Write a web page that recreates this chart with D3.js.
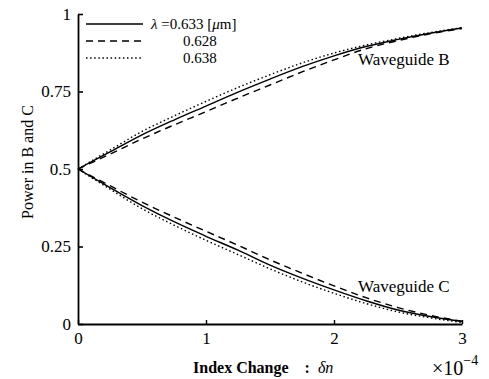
<!DOCTYPE html>
<html>
<head>
<meta charset="utf-8">
<script src="https://cdn.jsdelivr.net/npm/d3@7"></script>
<style>
  body { margin: 0; background: #fff; }
  svg text { font-family: "Liberation Serif", "Times New Roman", serif; fill: #000; }
</style>
</head>
<body>
<svg id="chart" width="489" height="379"></svg>
<script>
// index change (x 1e-4) and power fractions
const deltaN = [0, 0.25, 0.5, 0.75, 1, 1.25, 1.5, 1.75, 2, 2.25, 2.5, 2.75, 3];

const guideB633 = [0.5, 0.555, 0.61, 0.658, 0.703, 0.748, 0.79, 0.83, 0.865, 0.895, 0.918, 0.938, 0.955];
const guideB628 = [0.5, 0.548, 0.597, 0.642, 0.685, 0.729, 0.771, 0.813, 0.852, 0.888, 0.914, 0.936, 0.953];
const guideB638 = [0.5, 0.561, 0.621, 0.671, 0.718, 0.763, 0.804, 0.842, 0.874, 0.9, 0.921, 0.94, 0.956];

const guideC633 = [0.5, 0.44, 0.382, 0.33, 0.283, 0.238, 0.19, 0.148, 0.11, 0.075, 0.045, 0.024, 0.008];
const guideC628 = [0.5, 0.446, 0.393, 0.345, 0.299, 0.254, 0.207, 0.164, 0.123, 0.085, 0.053, 0.028, 0.009];
const guideC638 = [0.5, 0.435, 0.372, 0.319, 0.27, 0.224, 0.178, 0.136, 0.099, 0.066, 0.039, 0.02, 0.005];

const xTicks = [0, 1, 2, 3];
const yTicks = [0, 0.25, 0.5, 0.75, 1];
const yTickLabels = ["0", "0.25", "0.5", "0.75", "1"];
const legendLabels = ["0.633", "0.628", "0.638"];

const styles = {
  solid: null,
  dashed: "7,5",
  dotted: "1.5,2.6"
};

const series = [
  { values: guideB633, dash: styles.solid },
  { values: guideB628, dash: styles.dashed },
  { values: guideB638, dash: styles.dotted },
  { values: guideC633, dash: styles.solid },
  { values: guideC628, dash: styles.dashed },
  { values: guideC638, dash: styles.dotted }
];

const margin = { top: 14, left: 78, right: 27, bottom: 55 };
const width = 489, height = 379;

const svg = d3.select("#chart");

const x = d3.scaleLinear().domain([0, 3]).range([margin.left, width - margin.right]);
const y = d3.scaleLinear().domain([0, 1]).range([height - margin.bottom, margin.top]);

// axes, ticks pointing inward
const yAxis = svg.append("g")
  .attr("transform", `translate(${margin.left},0)`)
  .call(d3.axisLeft(y)
    .tickValues(yTicks)
    .tickFormat((d, i) => yTickLabels[i])
    .tickSizeInner(-5)
    .tickSizeOuter(0)
    .tickPadding(7));
yAxis.selectAll(".tick text").style("font-size", "17px");
yAxis.select(".domain").attr("stroke-width", 1.8);
yAxis.selectAll(".tick line").attr("stroke-width", 1.6);

const xAxis = svg.append("g")
  .attr("transform", `translate(0,${y(0)})`)
  .call(d3.axisBottom(x)
    .tickValues(xTicks)
    .tickFormat(d3.format("d"))
    .tickSizeInner(-4)
    .tickSizeOuter(0)
    .tickPadding(8));
xAxis.selectAll(".tick text").style("font-size", "17px");
xAxis.select(".domain").attr("stroke-width", 1.8);
xAxis.selectAll(".tick line").attr("stroke-width", 1.4);

// curves
const line = d3.line()
  .x((d, i) => x(deltaN[i]))
  .y(d => y(d))
  .curve(d3.curveMonotoneX);

svg.append("g")
  .selectAll("path")
  .data(series)
  .join("path")
  .attr("d", d => line(d.values))
  .attr("fill", "none")
  .attr("stroke", "#000")
  .attr("stroke-width", 1.4)
  .attr("stroke-dasharray", d => d.dash);

// legend
const legend = svg.append("g");
const legendY = [24, 41, 58];
legend.selectAll("line")
  .data([styles.solid, styles.dashed, styles.dotted])
  .join("line")
  .attr("x1", 86).attr("x2", 143)
  .attr("y1", (d, i) => legendY[i]).attr("y2", (d, i) => legendY[i])
  .attr("stroke", "#000")
  .attr("stroke-width", 1.3)
  .attr("stroke-dasharray", d => d);

legend.append("text")
  .attr("x", 151).attr("y", legendY[0] + 5)
  .style("font-size", "15px")
  .html(`<tspan font-style="italic">λ</tspan> =${legendLabels[0]} [<tspan font-style="italic">μ</tspan>m]`);
legend.selectAll("text.val")
  .data(legendLabels.slice(1))
  .join("text")
  .attr("class", "val")
  .attr("x", 183)
  .attr("y", (d, i) => legendY[i + 1] + 5)
  .style("font-size", "15px")
  .text(d => d);

// curve labels
svg.append("text")
  .attr("x", 358).attr("y", 65)
  .style("font-size", "17px")
  .text("Waveguide B");
svg.append("text")
  .attr("x", 358).attr("y", 292)
  .style("font-size", "17px")
  .text("Waveguide C");

// axis titles
svg.append("text")
  .attr("transform", "translate(33,162) rotate(-90)")
  .attr("text-anchor", "middle")
  .style("font-size", "16px")
  .text("Power in B and C");

svg.append("text")
  .attr("x", 193).attr("y", 373)
  .style("font-size", "16px")
  .style("font-weight", "bold")
  .html(`Index Change&#160;&#160;&#160;&#160;:&#160;&#160;<tspan font-style="italic" font-weight="normal">δn</tspan>`);

svg.append("text")
  .attr("x", 432).attr("y", 375)
  .style("font-size", "20px")
  .html(`×10<tspan dy="-10" font-size="14px">−4</tspan>`);
</script>
</body>
</html>
